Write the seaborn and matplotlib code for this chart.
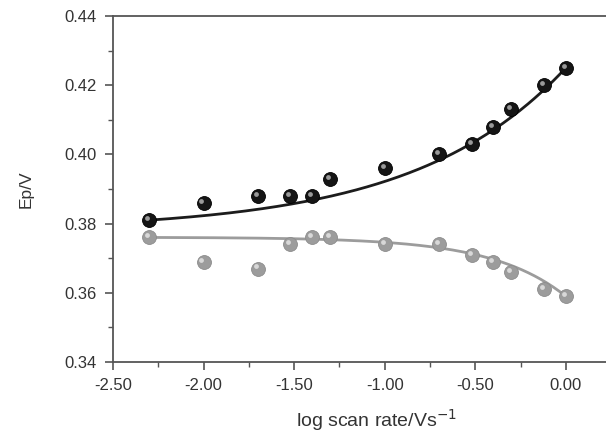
import numpy as np
import pandas as pd
import matplotlib
matplotlib.use("Agg")
import matplotlib.pyplot as plt
import matplotlib.transforms as mtransforms
import seaborn as sns
from matplotlib.ticker import MultipleLocator, FormatStrFormatter

log_scan_rate = [-2.30, -2.00, -1.70, -1.52, -1.40, -1.30, -1.00, -0.70, -0.52, -0.40, -0.30, -0.12, 0.00]
ep_black = [0.381, 0.386, 0.388, 0.388, 0.388, 0.393, 0.396, 0.400, 0.403, 0.408, 0.413, 0.420, 0.425]
ep_gray = [0.376, 0.369, 0.367, 0.374, 0.376, 0.376, 0.374, 0.374, 0.371, 0.369, 0.366, 0.361, 0.359]

# curvature of the exponential model curves drawn through the end points
curv_black = 1.2
curv_gray = 2.45

df = pd.DataFrame({"x": log_scan_rate, "black": ep_black, "gray": ep_gray})


def anchored_exp(x, y, c):
    """Exponential curve y0 + (y1-y0)*(exp(c(t-x0))-1)/(exp(c(x1-x0))-1) through the end points."""
    x0, x1 = x[0], x[-1]
    y0, y1 = y[0], y[-1]
    den = np.exp(c * (x1 - x0)) - 1.0
    return lambda t: y0 + (y1 - y0) * (np.exp(c * (t - x0)) - 1.0) / den


xs = np.linspace(min(log_scan_rate), max(log_scan_rate), 200)
curves = pd.DataFrame({
    "x": xs,
    "black": anchored_exp(log_scan_rate, ep_black, curv_black)(xs),
    "gray": anchored_exp(log_scan_rate, ep_gray, curv_gray)(xs),
})

sns.set_theme(style="white")
plt.rcParams["font.family"] = ["Liberation Sans", "DejaVu Sans"]

fig = plt.figure(figsize=(6.06, 4.36), dpi=100)
ax = fig.add_axes([113/606, 74/436, 1 - 113/606, (362 - 16)/436])

dark = "#1c1c1c"
grey = "#9c9c9c"

sns.lineplot(data=curves, x="x", y="black", color=dark, lw=2.0, ax=ax)
sns.lineplot(data=curves, x="x", y="gray", color=grey, lw=2.0, ax=ax)

# sphere-like markers with a small highlight
sns.scatterplot(data=df, x="x", y="black", s=100, color="#151515", edgecolor="#000000",
                linewidth=0.6, ax=ax, zorder=5)
sns.scatterplot(data=df, x="x", y="gray", s=100, color=grey, edgecolor="#8c8c8c",
                linewidth=0.6, ax=ax, zorder=5)
hl = mtransforms.offset_copy(ax.transData, fig=fig, x=-1.5, y=1.5, units="points")
ax.scatter(df["x"], df["black"], s=12, color="#9a9a9a", linewidths=0, transform=hl, zorder=6)
ax.scatter(df["x"], df["gray"], s=12, color="#d8d8d8", linewidths=0, transform=hl, zorder=6)

ax.set_xlim(-2.5, 0.222)
ax.set_ylim(0.34, 0.44)
ax.xaxis.set_major_locator(MultipleLocator(0.5))
ax.xaxis.set_minor_locator(MultipleLocator(0.25))
ax.yaxis.set_major_locator(MultipleLocator(0.02))
ax.yaxis.set_minor_locator(MultipleLocator(0.01))
ax.xaxis.set_major_formatter(FormatStrFormatter("%.2f"))
ax.yaxis.set_major_formatter(FormatStrFormatter("%.2f"))

ax.tick_params(axis="both", which="major", direction="out", length=5.5, width=1.2, pad=6,
               colors="#555555", labelcolor="#333333", labelsize=12, bottom=True, left=True)
ax.tick_params(axis="both", which="minor", direction="out", length=3.5, width=1.0,
               colors="#555555", bottom=True, left=True)

for side in ["left", "bottom", "top"]:
    ax.spines[side].set_color("#555555")
    ax.spines[side].set_linewidth(1.3)
ax.spines["right"].set_visible(False)

ax.set_xlabel("log scan rate/Vs$^{-1}$", fontsize=14, color="#333333")
ax.xaxis.set_label_coords((376 - 113) / 493, -(420 - 362) / 346, transform=ax.transAxes)
ax.xaxis.label.set_va("center")
ax.set_ylabel("Ep/V", fontsize=12.5, color="#333333")
ax.yaxis.set_label_coords(-0.16, 0.5)

fig.savefig("out.png", dpi=100)
